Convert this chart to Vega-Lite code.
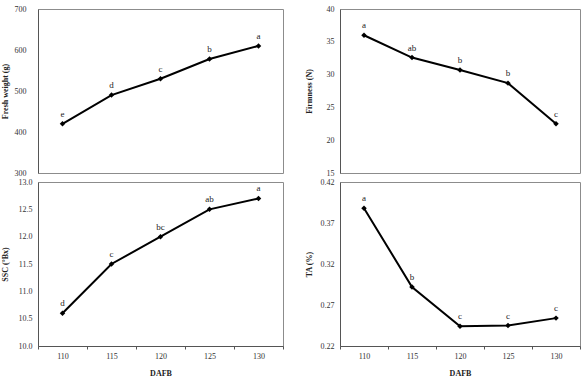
{
  "$schema": "https://vega.github.io/schema/vega-lite/v6.json",
  "padding": {"left": 0, "top": 4, "right": 4, "bottom": 0},
  "background": "white",
  "data": {"values": [
    {"panel": "fw", "dafb": "110", "value": 420, "letter": "e"},
    {"panel": "fw", "dafb": "115", "value": 490, "letter": "d"},
    {"panel": "fw", "dafb": "120", "value": 530, "letter": "c"},
    {"panel": "fw", "dafb": "125", "value": 578, "letter": "b"},
    {"panel": "fw", "dafb": "130", "value": 610, "letter": "a"},
    {"panel": "fi", "dafb": "110", "value": 36.0, "letter": "a"},
    {"panel": "fi", "dafb": "115", "value": 32.6, "letter": "ab"},
    {"panel": "fi", "dafb": "120", "value": 30.7, "letter": "b"},
    {"panel": "fi", "dafb": "125", "value": 28.7, "letter": "b"},
    {"panel": "fi", "dafb": "130", "value": 22.5, "letter": "c"},
    {"panel": "ssc", "dafb": "110", "value": 10.6, "letter": "d"},
    {"panel": "ssc", "dafb": "115", "value": 11.5, "letter": "c"},
    {"panel": "ssc", "dafb": "120", "value": 12.0, "letter": "bc"},
    {"panel": "ssc", "dafb": "125", "value": 12.5, "letter": "ab"},
    {"panel": "ssc", "dafb": "130", "value": 12.7, "letter": "a"},
    {"panel": "ta", "dafb": "110", "value": 0.388, "letter": "a"},
    {"panel": "ta", "dafb": "115", "value": 0.292, "letter": "b"},
    {"panel": "ta", "dafb": "120", "value": 0.244, "letter": "c"},
    {"panel": "ta", "dafb": "125", "value": 0.245, "letter": "c"},
    {"panel": "ta", "dafb": "130", "value": 0.254, "letter": "c"}
  ]},
  "config": {
    "font": "Liberation Serif",
    "view": {"stroke": "#8c8c8c", "strokeWidth": 1},
    "axis": {
      "grid": false,
      "domainColor": "#555",
      "tickColor": "#555",
      "labelFont": "Liberation Serif",
      "labelFontSize": 8,
      "labelColor": "#333",
      "titleFont": "Liberation Serif",
      "titleFontSize": 8,
      "titleFontWeight": "bold",
      "titleColor": "#222",
      "tickSize": 3
    }
  },
  "bounds": "flush",
  "columns": 2,
  "spacing": {"row": 9, "column": 57},
  "concat": [
    {
      "width": 245, "height": 164,
      "transform": [{"filter": "datum.panel === 'fw'"}],
      "encoding": {
        "x": {"field": "dafb", "type": "ordinal", "scale": {"type": "band", "paddingInner": 0, "paddingOuter": 0}, "axis": null},
        "y": {"field": "value", "type": "quantitative", "scale": {"domain": [300, 700], "nice": false, "zero": false},
              "axis": {"title": "Fresh weight (g)", "values": [300, 400, 500, 600, 700], "labelPadding": 12, "tickSize": 0, "titleX": -33, "titleBaseline": "middle"}}
      },
      "layer": [
        {"mark": {"type": "line", "color": "black", "strokeWidth": 2}},
        {"mark": {"type": "point", "shape": "diamond", "filled": true, "color": "black", "size": 30, "opacity": 1}},
        {"mark": {"type": "text", "dy": -10, "fontSize": 9, "font": "Liberation Serif", "color": "#222"}, "encoding": {"text": {"field": "letter"}}}
      ]
    },
    {
      "width": 240, "height": 164,
      "transform": [{"filter": "datum.panel === 'fi'"}],
      "encoding": {
        "x": {"field": "dafb", "type": "ordinal", "scale": {"type": "band", "paddingInner": 0, "paddingOuter": 0}, "axis": null},
        "y": {"field": "value", "type": "quantitative", "scale": {"domain": [15, 40], "nice": false, "zero": false},
              "axis": {"title": "Firmness (N)", "values": [15, 20, 25, 30, 35, 40], "labelPadding": 6, "tickSize": 0, "titleX": -31, "titleBaseline": "middle"}}
      },
      "layer": [
        {"mark": {"type": "line", "color": "black", "strokeWidth": 2}},
        {"mark": {"type": "point", "shape": "diamond", "filled": true, "color": "black", "size": 30, "opacity": 1}},
        {"mark": {"type": "text", "dy": -10, "fontSize": 9, "font": "Liberation Serif", "color": "#222"}, "encoding": {"text": {"field": "letter"}}}
      ]
    },
    {
      "width": 245, "height": 164,
      "transform": [{"filter": "datum.panel === 'ssc'"}],
      "encoding": {
        "x": {"field": "dafb", "type": "ordinal", "scale": {"type": "band", "paddingInner": 0, "paddingOuter": 0},
              "axis": {"title": "DAFB", "labelAngle": 0, "tickBand": "extent", "labelPadding": 3, "titlePadding": 9}},
        "y": {"field": "value", "type": "quantitative", "scale": {"domain": [10, 13], "nice": false, "zero": false},
              "axis": {"title": "SSC (°Bx)", "values": [10, 10.5, 11, 11.5, 12, 12.5, 13], "format": ".1f", "labelPadding": 6, "tickSize": 0, "titleX": -33, "titleBaseline": "middle"}}
      },
      "layer": [
        {"mark": {"type": "line", "color": "black", "strokeWidth": 2}},
        {"mark": {"type": "point", "shape": "diamond", "filled": true, "color": "black", "size": 30, "opacity": 1}},
        {"mark": {"type": "text", "dy": -10, "fontSize": 9, "font": "Liberation Serif", "color": "#222"}, "encoding": {"text": {"field": "letter"}}}
      ]
    },
    {
      "width": 240, "height": 164,
      "transform": [{"filter": "datum.panel === 'ta'"}],
      "encoding": {
        "x": {"field": "dafb", "type": "ordinal", "scale": {"type": "band", "paddingInner": 0, "paddingOuter": 0},
              "axis": {"title": "DAFB", "labelAngle": 0, "tickBand": "extent", "labelPadding": 3, "titlePadding": 9}},
        "y": {"field": "value", "type": "quantitative", "scale": {"domain": [0.22, 0.42], "nice": false, "zero": false},
              "axis": {"title": "TA (%)", "values": [0.22, 0.27, 0.32, 0.37, 0.42], "format": ".2f", "labelPadding": 6, "tickSize": 0, "titleX": -31, "titleBaseline": "middle"}}
      },
      "layer": [
        {"mark": {"type": "line", "color": "black", "strokeWidth": 2}},
        {"mark": {"type": "point", "shape": "diamond", "filled": true, "color": "black", "size": 30, "opacity": 1}},
        {"mark": {"type": "text", "dy": -10, "fontSize": 9, "font": "Liberation Serif", "color": "#222"}, "encoding": {"text": {"field": "letter"}}}
      ]
    }
  ]
}
